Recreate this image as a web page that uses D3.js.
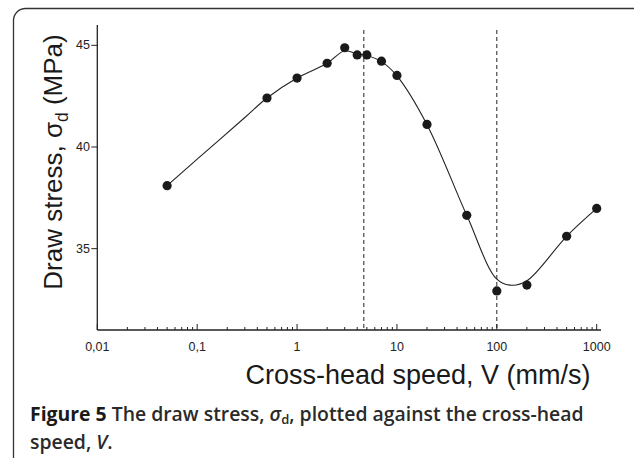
<!DOCTYPE html>
<html>
<head>
    <script src="https://d3js.org/d3.v7.min.js"></script>
    <style>
        body { margin: 0; background: #fff; }
        .axis text { font: 12.5px "Liberation Sans", Arial, sans-serif; fill: #222; }
        .title { font-family: "Liberation Sans", Arial, sans-serif; fill: #1a1a1a; }
        .caption { font-family: "Open Sans", sans-serif; font-size: 19.4px; fill: #2a2a2a; font-weight: 600; }
    </style>
</head>
<body>
    <script>
        // measured points
        var speed = [0.05, 0.5, 1, 2, 3, 4, 5, 7, 10, 20, 50, 100, 200, 500, 1000];
        var stress = [38.1, 42.41, 43.39, 44.12, 44.88, 44.53, 44.53, 44.22, 43.52, 41.11, 36.64, 32.92, 33.21, 35.61, 36.98];

        // smooth fit line
        var fitSpeed = [0.05, 0.1, 0.3, 0.5, 1, 2, 3, 4, 5, 7, 10, 20, 50, 100, 140, 200, 500, 1000];
        var fitStress = [38.1, 39.4, 41.45, 42.41, 43.39, 44.12, 44.73, 44.58, 44.5, 44.2, 43.5, 41.1, 36.64, 33.5, 33.2, 33.42, 35.61, 36.98];

        var markers = [4.66, 100];
        var xTicks = [0.01, 0.1, 1, 10, 100, 1000];
        var xTickLabels = ["0,01", "0,1", "1", "10", "100", "1000"];
        var yTicks = [35, 40, 45];

        var width = 634, height = 458;
        var svg = d3.select("body").append("svg")
            .attr("width", width)
            .attr("height", height);

        // frame
        svg.append("rect")
            .attr("x", 13.5).attr("y", 8.5)
            .attr("width", 640).attr("height", 470)
            .attr("rx", 12).attr("ry", 12)
            .attr("fill", "none")
            .attr("stroke", "#333")
            .attr("stroke-width", 1.3);

        var x = d3.scaleLog().domain([0.01, 1000]).range([97.3, 596.7]);
        var y = d3.scaleLinear().domain([31, 46]).range([330, 25]);

        var ink = "#222";

        // x axis with inward ticks
        var xg = svg.append("g").attr("class", "axis");
        xg.append("line")
            .attr("x1", x(0.01)).attr("x2", 601)
            .attr("y1", y(31)).attr("y2", y(31))
            .attr("stroke", ink).attr("stroke-width", 1.3);
        var minor = [];
        for (var e = -2; e < 3; e++) {
            for (var m = 2; m <= 9; m++) minor.push(m * Math.pow(10, e));
        }
        xg.selectAll(".minor").data(minor).enter().append("line")
            .attr("x1", function (d) { return x(d); })
            .attr("x2", function (d) { return x(d); })
            .attr("y1", y(31)).attr("y2", y(31) - 3)
            .attr("stroke", ink).attr("stroke-width", 1);
        xg.selectAll(".major").data(xTicks).enter().append("line")
            .attr("x1", function (d) { return x(d); })
            .attr("x2", function (d) { return x(d); })
            .attr("y1", y(31)).attr("y2", y(31) - 6)
            .attr("stroke", ink).attr("stroke-width", 1);
        xg.selectAll("text").data(xTicks).enter().append("text")
            .attr("x", function (d) { return x(d); })
            .attr("y", 351)
            .attr("text-anchor", "middle")
            .text(function (d, i) { return xTickLabels[i]; });

        // y axis with outward ticks
        var yg = svg.append("g").attr("class", "axis");
        yg.append("line")
            .attr("x1", x(0.01)).attr("x2", x(0.01))
            .attr("y1", y(31)).attr("y2", y(46))
            .attr("stroke", ink).attr("stroke-width", 1.3);
        yg.selectAll(".tick").data(yTicks).enter().append("line")
            .attr("x1", x(0.01) - 6).attr("x2", x(0.01))
            .attr("y1", function (d) { return y(d); })
            .attr("y2", function (d) { return y(d); })
            .attr("stroke", ink).attr("stroke-width", 1);
        yg.selectAll("text").data(yTicks).enter().append("text")
            .attr("x", 90)
            .attr("y", function (d) { return y(d) + 4; })
            .attr("text-anchor", "end")
            .text(function (d) { return d; });

        // dashed markers
        svg.selectAll(".mark").data(markers).enter().append("line")
            .attr("x1", function (d) { return x(d); })
            .attr("x2", function (d) { return x(d); })
            .attr("y1", 30).attr("y2", y(31))
            .attr("stroke", ink).attr("stroke-width", 1)
            .attr("stroke-dasharray", "4,3");

        // fit curve
        var fit = fitSpeed.map(function (v, i) { return [v, fitStress[i]]; });
        var line = d3.line()
            .x(function (d) { return x(d[0]); })
            .y(function (d) { return y(d[1]); })
            .curve(d3.curveCatmullRom.alpha(0.5));
        svg.append("path")
            .datum(fit)
            .attr("d", line)
            .attr("fill", "none")
            .attr("stroke", ink)
            .attr("stroke-width", 1.1);

        // points
        svg.selectAll(".pt").data(speed).enter().append("circle")
            .attr("cx", function (d) { return x(d); })
            .attr("cy", function (d, i) { return y(stress[i]); })
            .attr("r", 4.6)
            .attr("fill", "#1a1a1a");

        // axis titles
        var yt = svg.append("text")
            .attr("class", "title")
            .attr("transform", "translate(62,162) rotate(-90)")
            .attr("text-anchor", "middle")
            .style("font-size", "26px");
        yt.append("tspan").text("Draw stress, σ");
        yt.append("tspan").attr("dy", 6).style("font-size", "17.5px").text("d");
        yt.append("tspan").attr("dy", -6).text(" (MPa)");

        svg.append("text")
            .attr("class", "title")
            .attr("x", 418).attr("y", 384)
            .attr("text-anchor", "middle")
            .style("font-size", "27px")
            .text("Cross-head speed, V (mm/s)");

        // caption
        var cap = svg.append("text").attr("class", "caption").attr("x", 30).attr("y", 421);
        cap.append("tspan").style("font-weight", 700).style("fill", "#1a1a1a").text("Figure 5");
        cap.append("tspan").text(" The draw stress, ");
        cap.append("tspan").style("font-style", "italic").text("σ");
        cap.append("tspan").attr("dy", 3).style("font-size", "13px").text("d");
        cap.append("tspan").attr("dy", -3).text(", plotted against the cross-head");
        var cap2 = svg.append("text").attr("class", "caption").attr("x", 30).attr("y", 449);
        cap2.append("tspan").text("speed, ");
        cap2.append("tspan").style("font-style", "italic").text("V");
        cap2.append("tspan").text(".");
    </script>
</body>
</html>
